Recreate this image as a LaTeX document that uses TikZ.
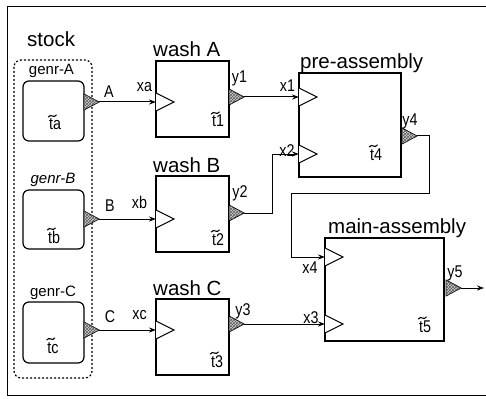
\documentclass[tikz,border=0pt]{standalone}
\usepackage{fontspec}
\setmainfont{Liberation Sans}
\newfontfamily\lblfont[FakeStretch=0.84]{Liberation Sans}
\usetikzlibrary{calc,patterns,arrows.meta}
\begin{document}
\begin{tikzpicture}[x=1pt,y=-1pt,
  procbox/.style={draw, line width=1.2pt, inner sep=0pt},
  genbox/.style={procbox, rounded corners=6pt},
  ttl/.style={font=\fontsize{20.5}{24}\selectfont, inner sep=0pt, anchor=base west},
  lbl/.style={font=\lblfont\fontsize{17}{19}\selectfont, inner sep=0pt, anchor=base},
  glbl/.style={font=\fontsize{15}{18}\selectfont, inner sep=0pt, anchor=base},
  conn/.style={line width=1pt, -{Stealth[length=7pt,width=5pt]}},
  tld/.style={line width=1.1pt, line cap=round},
  outtri/.style={draw, line width=0.8pt, fill=gray!35,
     postaction={pattern=crosshatch, pattern color=gray!70!black}},
  intri/.style={draw, line width=1pt, fill=white}]
\useasboundingbox (0,0) rectangle (486,398);
% frame
\draw[line width=1pt] (7,7) rectangle (490,395);
% stock group
\node[ttl] (stk) at (27,47) {stock};
\draw[line width=1.2pt, dash pattern=on 2pt off 2pt, rounded corners=7pt] (14,60) rectangle (92,378);
% generators
\node[genbox, minimum width=61pt, minimum height=60pt] (gA) at (53.5,111) {};
\node[genbox, minimum width=61pt, minimum height=59pt] (gB) at (53.5,219.5) {};
\node[genbox, minimum width=61pt, minimum height=61pt] (gC) at (53.5,332.5) {};
\node[glbl, anchor=center] (gAl) at (51.5,71) {genr-A};
\node[glbl, anchor=center] (gBl) at (53,180) {\itshape genr-B};
\node[glbl, anchor=center] (gCl) at (53,293) {genr-C};
\node[lbl] (ta) at (55,130) {ta};
\node[lbl] (tb) at (54,243) {tb};
\node[lbl] (tc) at (53,353) {tc};
% wash boxes
\node[procbox, minimum width=73pt, minimum height=76pt] (wA) at (192.5,99) {};
\node[procbox, minimum width=73pt, minimum height=76pt] (wB) at (192.5,214) {};
\node[procbox, minimum width=73pt, minimum height=76pt] (wC) at (192.5,337) {};
\node[ttl] (wAt) at (153,57) {wash A};
\node[ttl] (wBt) at (153,172) {wash B};
\node[ttl] (wCt) at (153,295) {wash C};
\node[lbl] (t1) at (218,127) {t1};
\node[lbl] (t2) at (218,245) {t2};
\node[lbl] (t3) at (217,367) {t3};
% assembly boxes
\node[procbox, minimum width=102pt, minimum height=104pt] (pre) at (350,125) {};
\node[procbox, minimum width=119pt, minimum height=103pt] (main) at (384.5,289.5) {};
\node[ttl] (pret) at (300,69) {pre-assembly};
\node[ttl] (maint) at (328,233) {main-assembly};
\node[lbl] (t4) at (376,160) {t4};
\node[lbl] (t5) at (425,332) {t5};
% tildes over the t's
\foreach \n in {ta,tb,tc,t1,t2,t3,t4,t5}
  \draw[tld] ($(\n.base west)+(-0.5,-13)$) .. controls ($(\n.base west)+(2,-17)$) and ($(\n.base west)+(5,-11)$) .. ($(\n.base west)+(7.5,-15)$);
% ports: output tips and input bases
\coordinate (oA) at (99,102);
\coordinate (oB) at (99,219);
\coordinate (oC) at (99,330);
\coordinate (iA) at (156,102);
\coordinate (iB) at (156,219);
\coordinate (iC) at (156,330);
\coordinate (y1) at (244,97);
\coordinate (y2) at (244,213);
\coordinate (y3) at (244,324);
\coordinate (x1) at (299,97);
\coordinate (x2) at (299,154);
\coordinate (y4) at (417,136);
\coordinate (x4) at (325,257);
\coordinate (x3) at (325,324);
\coordinate (y5) at (461,288);
\coordinate (out) at (484,288);
% output triangles
\foreach \p in {oA,oB,oC,y1,y2,y3,y4,y5}
  \draw[outtri] (\p) -- ++(-15,-8) -- ++(0,16) -- cycle;
% input triangles
\foreach \p in {iA,iB,iC,x1,x2,x4,x3}
  \draw[intri] ($(\p)+(0,-9)$) -- ($(\p)+(18,0)$) -- ($(\p)+(0,9)$);
% connectors
\draw[conn] (oA) -- (iA);
\draw[conn] (oB) -- (iB);
\draw[conn] (oC) -- (iC);
\draw[conn] (y1) -- (x1);
\draw[conn] (y2) -| (272,154) -- (x2);
\draw[conn] (y3) -- (x3);
\draw[conn] (y4) -- (429,136) -- (429,193) -- (291,193) -- (291,257) -- (x4);
\draw[conn] (y5) -- (out);
% connector labels
\node[lbl] (lA) at (109,98) {A};
\node[lbl] (lB) at (110,211) {B};
\node[lbl] (lC) at (110,322) {C};
\node[lbl] (lxa) at (144.5,92) {xa};
\node[lbl] (lxb) at (139.5,208) {xb};
\node[lbl] (lxc) at (139.5,319) {xc};
\node[lbl] (ly1) at (239.5,83) {y1};
\node[lbl] (ly2) at (240,197) {y2};
\node[lbl] (ly3) at (243,315) {y3};
\node[lbl] (lx1) at (287.5,92) {x1};
\node[lbl] (lx2) at (287,157) {x2};
\node[lbl] (ly4) at (410,125) {y4};
\node[lbl] (lx4) at (310,273) {x4};
\node[lbl] (lx3) at (311,323) {x3};
\node[lbl] (ly5) at (455,277) {y5};
\end{tikzpicture}
\end{document}
